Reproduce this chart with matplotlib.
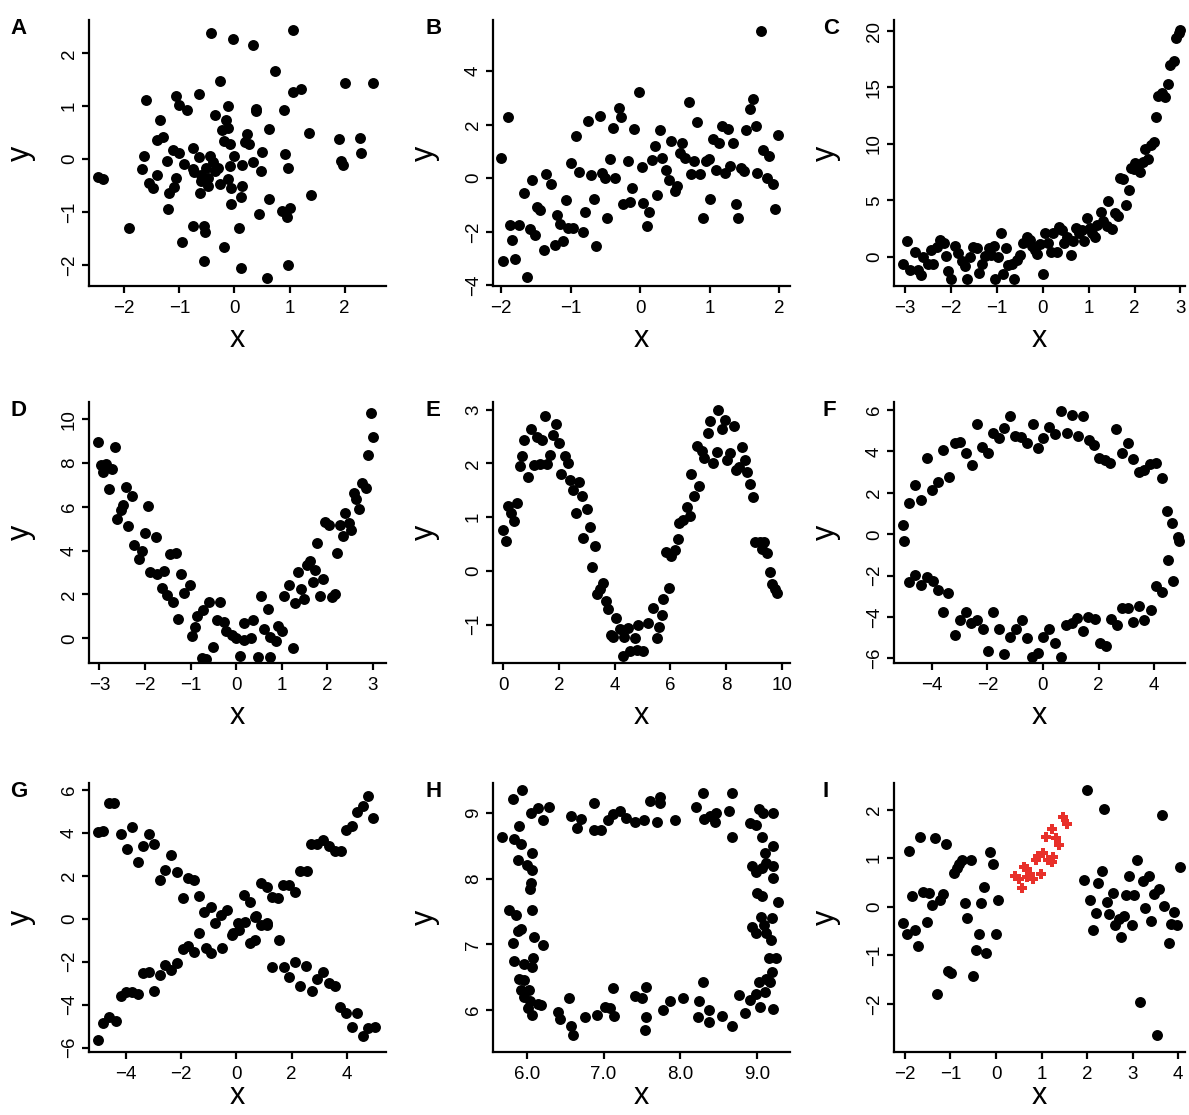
import matplotlib.pyplot as plt

plt.rcParams["font.family"] = ["Liberation Sans", "DejaVu Sans"]

# ---- data, one pair of lists per panel ----
A_X = [-0.42, -0.03, 0.33, 1.06, 0.74, -0.27, 2.0, 2.52, 1.06, 1.21, -0.64, -1.07, -1.61, -1.0,
       -0.87, -0.11, 0.39, 0.39, 0.9, -0.36, -1.35, -0.15, -0.22, -0.11, 0.62, 1.36, 0.22, -1.41,
       -1.29, -0.19, -0.08, 0.19, 0.27, 1.9, 2.27, -0.76, 2.3, 0.5, 0.91, -1.65, -1.12, -1.0, -1.22,
       -0.92, -0.64, -0.45, 0.0, 0.33, 0.14, -0.08, -1.67, -0.52, -0.3, -0.36, 0.48, 0.98, 1.97,
       1.94, -0.73, -0.61, -0.48, -1.41, -1.07, -1.55, -1.48, -1.1, -0.27, -0.11, -0.06, 0.13,
       -0.61, -0.48, -1.18, -0.62, 0.12, 0.62, 1.39, -0.07, -1.21, 0.44, 0.87, 1.01, 0.95, -1.91,
       -0.76, -0.56, -0.53, 0.08, -0.95, -0.19, -0.56, 0.11, 0.97, 0.59, -2.48, -2.38, -0.39, -0.76]
A_Y = [2.39, 2.28, 2.15, 2.44, 1.66, 1.47, 1.43, 1.43, 1.26, 1.33, 1.24, 1.19, 1.11, 1.03, 0.92,
       1.0, 0.95, 0.91, 0.92, 0.84, 0.73, 0.73, 0.55, 0.59, 0.57, 0.5, 0.48, 0.37, 0.41, 0.35, 0.29,
       0.32, 0.29, 0.38, 0.4, 0.21, 0.11, 0.13, 0.1, 0.05, 0.17, 0.11, -0.03, -0.1, 0.03, 0.06, 0.06,
       -0.05, -0.11, -0.14, -0.18, -0.16, -0.16, -0.22, -0.22, -0.16, -0.11, -0.04, -0.25, -0.3,
       -0.35, -0.3, -0.35, -0.45, -0.54, -0.52, -0.48, -0.38, -0.54, -0.51, -0.41, -0.51, -0.65,
       -0.65, -0.71, -0.75, -0.68, -0.84, -0.94, -1.03, -0.98, -0.93, -1.09, -1.31, -1.27, -1.26,
       -1.38, -1.31, -1.56, -1.67, -1.92, -2.06, -2.01, -2.25, -0.33, -0.38, -0.06, -0.19]

B_X = [1.74, -2.0, -1.91, -1.97, -1.8, -1.63, -1.88, -1.84, -1.75, -1.68, -1.58, -1.56, -1.51,
       -1.48, -1.44, -1.39, -1.36, -1.28, -1.23, -1.2, -1.16, -1.11, -1.07, -1.04, -0.99, -0.96,
       -0.92, -0.88, -0.83, -0.79, -0.75, -0.71, -0.67, -0.64, -0.58, -0.55, -0.51, -0.47, -0.43,
       -0.39, -0.36, -0.31, -0.27, -0.25, -0.18, -0.15, -0.11, -0.09, -0.02, 0.02, 0.04, 0.13, 0.1,
       0.17, 0.21, 0.25, 0.29, 0.32, 0.37, 0.41, 0.44, 0.5, 0.53, 0.57, 0.61, 0.65, 0.7, 0.73, 0.78,
       0.82, 0.86, 0.91, 0.95, 0.99, 1.01, 1.05, 1.1, 1.14, 1.18, 1.22, 1.27, 1.3, 1.34, 1.38, 1.41,
       1.46, 1.5, 1.53, 1.58, 1.62, 1.67, 1.69, 1.77, 1.83, 1.86, 1.91, 1.94, 1.99]
B_Y = [5.5, 0.76, 2.29, -3.1, -3.03, -3.68, -1.73, -2.31, -1.75, -0.55, -1.88, -0.07, -2.13, -1.07,
       -1.19, -2.66, 0.17, -0.2, -2.5, -1.36, -1.69, -2.35, -0.82, -1.85, 0.57, -1.84, 1.57, 0.24,
       -2.0, -1.26, 2.14, 0.11, -0.76, -2.52, 2.33, 0.21, 0.02, -1.47, 0.71, 1.89, 0.01, 2.62, 2.29,
       -0.97, 0.65, -0.88, -0.35, 1.83, 3.2, 0.4, -0.92, -1.26, -1.78, 0.67, 1.21, -0.63, 1.79, 0.76,
       0.3, -0.07, 1.38, -0.47, -0.29, 0.95, 1.32, 0.76, 2.85, 0.15, 0.65, 2.1, 0.14, -1.5, 0.65,
       0.71, -0.76, 1.48, 0.32, 1.33, 1.95, 0.21, 1.85, 0.46, 1.32, -0.95, -1.5, 0.39, 0.26, 1.79,
       2.57, 2.97, 1.94, 0.21, 1.07, -0.01, 0.83, -0.2, -1.16, 1.6]

C_X = [-3.04, -2.96, -2.89, -2.78, -2.71, -2.66, -2.6, -2.49, -2.44, -2.38, -2.31, -2.24, -2.16,
       -2.11, -2.06, -2.0, -1.91, -1.84, -1.76, -1.69, -1.64, -1.58, -1.51, -1.44, -1.39, -1.33,
       -1.26, -1.18, -1.13, -1.07, -1.04, -0.97, -0.91, -0.86, -0.8, -0.75, -0.68, -0.62, -0.57,
       -0.49, -0.42, -0.35, -0.28, -0.24, -0.17, -0.12, -0.06, 0.0, 0.05, 0.12, 0.17, 0.23, 0.31,
       0.36, 0.41, 0.46, 0.52, 0.61, 0.67, 0.73, 0.78, 0.85, 0.91, 0.96, 1.02, 1.08, 1.14, 1.19,
       1.26, 1.32, 1.39, 1.43, 1.52, 1.58, 1.63, 1.68, 1.76, 1.82, 1.87, 1.92, 1.98, 2.06, 2.12,
       2.19, 2.23, 2.3, 2.37, 2.43, 2.47, 2.52, 2.59, 2.67, 2.74, 2.77, 2.85, 2.9, 2.96, 2.99, 2.01]
C_Y = [-0.6, 1.43, -1.19, 0.45, -1.19, -1.64, 0.0, -0.6, 0.6, -0.65, 0.89, 1.49, 1.19, 0.06, -1.25,
       -1.93, 0.95, 0.3, -0.39, -0.83, -1.93, 0.0, 0.89, 0.8, -1.43, -0.6, 0.06, 0.74, 0.15, 0.95,
       -1.93, 0.0, 2.14, -1.49, 0.74, -0.74, -0.6, -1.93, -0.3, 0.15, 1.19, 1.73, 1.49, 0.95, 0.6,
       0.24, 1.13, -1.55, 2.08, 1.19, 0.45, 2.08, 0.45, 2.68, 2.38, 1.19, 1.73, 0.15, 1.43, 2.59,
       2.14, 2.38, 1.43, 3.42, 2.53, 2.14, 1.73, 2.83, 3.93, 3.21, 2.74, 4.91, 2.44, 3.87, 3.57,
       6.99, 6.9, 4.61, 5.95, 7.89, 7.74, 7.98, 7.5, 8.39, 9.52, 8.69, 9.88, 10.18, 12.35, 14.29,
       14.49, 14.14, 15.33, 16.96, 17.32, 19.4, 19.85, 20.09, 8.33]

D_X = [-3.03, -2.66, -2.97, -2.86, -2.92, -2.72, -2.79, -2.42, -2.29, -2.48, -2.53, -2.61, -2.37,
       -1.93, -2.0, -1.77, -2.24, -2.06, -2.13, -1.89, -1.74, -1.58, -1.45, -1.31, -1.63, -1.51,
       -1.38, -1.2, -1.14, -1.01, -1.27, -0.85, -0.72, -0.59, -0.9, -0.96, -0.35, -0.41, -0.26,
       -0.23, -0.1, -0.01, 0.18, 0.32, 0.18, 0.37, 0.54, 0.69, 0.62, 0.75, 0.87, 0.93, 1.0, 1.24,
       -0.75, -0.67, -0.51, 0.08, 0.49, 0.74, 1.05, 1.15, 1.3, 1.35, 1.42, 1.5, 1.55, 1.62, 1.68,
       1.73, 1.84, 1.91, 1.77, 1.96, 2.04, 2.1, 2.18, 2.21, 2.29, 2.34, 2.4, 2.47, 2.52, 2.58, 2.63,
       2.7, 2.76, 2.84, 2.89, 3.0, 2.95]
D_Y = [8.95, 8.75, 7.91, 7.96, 7.61, 7.72, 6.82, 6.89, 6.5, 6.09, 5.86, 5.43, 5.14, 6.04, 4.82,
       4.64, 4.26, 4.0, 3.61, 3.04, 2.94, 3.09, 3.84, 3.88, 2.28, 1.98, 1.67, 2.94, 2.05, 2.44, 0.87,
       1.02, 1.29, 1.64, 0.5, 0.12, 1.64, 0.84, 0.76, 0.35, 0.15, 0.0, -0.08, 0.0, 0.68, 0.84, 1.93,
       1.32, 0.41, 0.08, -0.11, 0.58, 0.35, -0.46, -0.91, -0.96, -0.41, -0.81, -0.84, -0.84, 1.93,
       2.44, 1.63, 3.04, 2.25, 1.8, 3.35, 3.55, 2.56, 3.12, 1.95, 2.69, 4.37, 5.33, 5.18, 1.9, 2.02,
       3.88, 5.18, 4.67, 5.71, 5.28, 4.95, 6.65, 6.35, 5.89, 7.08, 6.85, 8.37, 9.21, 10.3]

E_X = [-0.01, 0.11, 0.19, 0.29, 0.41, 0.51, 0.61, 0.69, 0.76, 0.91, 0.99, 1.11, 1.23, 1.33, 1.39,
       1.51, 1.57, 1.69, 1.78, 1.9, 2.01, 2.08, 2.22, 2.34, 2.4, 2.52, 2.72, 2.62, 2.82, 3.0, 2.88,
       3.12, 3.3, 3.2, 3.36, 3.6, 3.48, 3.69, 3.78, 4.05, 3.87, 3.95, 4.19, 4.35, 4.47, 4.29, 4.55,
       4.73, 4.85, 4.79, 5.01, 5.21, 5.36, 5.51, 5.59, 5.69, 5.75, 5.96, 5.84, 6.02, 6.16, 6.26,
       6.32, 6.46, 6.58, 6.7, 6.86, 6.74, 7.04, 6.94, 7.12, 7.2, 7.36, 7.42, 7.54, 7.66, 7.72, 7.84,
       7.96, 8.04, 8.14, 8.28, 8.37, 8.47, 8.58, 8.67, 8.76, 8.85, 8.95, 9.03, 9.21, 9.35, 9.27,
       9.45, 9.57, 9.63, 9.75, 9.84]
E_Y = [0.77, 0.56, 1.21, 1.08, 0.93, 1.27, 1.95, 2.14, 2.43, 1.75, 2.63, 1.97, 2.49, 1.98, 2.44,
       2.88, 1.99, 2.15, 2.52, 2.74, 2.37, 1.81, 2.13, 2.0, 1.69, 1.5, 1.66, 1.07, 1.39, 1.16, 0.62,
       0.81, 0.46, 0.08, -0.43, -0.23, -0.34, -0.55, -0.71, -0.87, -1.19, -1.23, -1.08, -1.23,
       -1.06, -1.58, -1.48, -1.25, -1.0, -1.47, -1.48, -0.97, -0.69, -1.25, -1.05, -0.82, -0.53,
       -0.32, 0.36, 0.27, 0.39, 0.59, 0.9, 0.95, 1.18, 1.02, 1.39, 1.81, 1.58, 2.32, 2.23, 2.1,
       2.57, 2.78, 2.0, 2.21, 2.99, 2.63, 2.81, 2.06, 2.2, 2.7, 1.87, 1.94, 2.31, 2.06, 1.84, 1.61,
       1.37, 0.54, 0.53, 0.54, 0.4, 0.34, -0.01, -0.24, -0.34, -0.4]

F_X = [-5.02, -5.0, -4.81, -4.6, -4.39, -4.18, -4.0, -3.79, -3.59, -3.37, -3.17, -2.99, -2.77,
       -2.57, -2.39, -2.18, -1.99, -1.79, -1.57, -1.39, -1.19, -1.01, -0.79, -0.59, -0.37, -0.17,
       0.01, 0.23, 0.43, 0.64, 0.85, 1.06, 1.25, 1.45, 1.65, 1.85, 2.03, 2.23, 2.41, 2.63, 2.85,
       3.05, 3.25, 3.45, 3.65, 3.85, 4.06, 4.27, 4.47, 4.66, 4.87, 4.89, 4.51, 4.69, 4.06, 4.27,
       3.87, 3.65, 3.47, 3.25, 3.05, 2.83, 2.65, 2.43, 2.27, 2.05, 1.87, 1.63, 1.45, 1.24, 1.03,
       0.83, 0.64, 0.43, 0.23, 0.01, -0.17, -0.38, -0.59, -0.77, -0.97, -1.19, -1.39, -1.57, -1.79,
       -1.97, -2.17, -2.39, -2.59, -2.77, -2.99, -3.17, -3.59, -3.41, -3.77, -3.97, -4.18, -4.39,
       -4.6, -4.81]
F_Y = [0.45, -0.31, 1.53, 2.38, 1.66, 3.7, 2.14, 2.54, 4.07, 2.75, 4.4, 4.48, 3.95, 3.35, 5.31,
       4.24, 3.91, 4.91, 4.64, 5.15, 5.72, 4.75, 4.72, 4.43, 5.31, 4.15, 4.64, 5.2, 4.83, 5.96, 4.91,
       5.76, 4.75, 5.72, 4.56, 4.32, 3.7, 3.59, 3.43, 5.07, 3.95, 4.43, 3.62, 3.03, 3.11, 3.4, 3.46,
       2.71, 1.1, 0.53, -0.11, -0.31, -1.24, -2.24, -2.48, -2.77, -3.66, -4.14, -3.46, -4.22, -3.57,
       -3.57, -4.38, -4.11, -5.39, -5.27, -4.11, -3.98, -4.65, -4.06, -4.3, -4.38, -5.91, -5.27,
       -4.59, -4.94, -5.72, -5.91, -4.99, -4.14, -4.59, -4.94, -5.8, -4.59, -3.78, -5.64, -4.59,
       -4.14, -4.3, -3.78, -4.14, -4.86, -3.78, -2.85, -2.69, -2.24, -2.08, -2.45, -1.96, -2.29]

G_X = [-5.01, -4.81, -4.61, -4.41, -4.17, -3.95, -3.77, -3.56, -3.36, -3.16, -2.96, -2.75, -2.56,
       -2.36, -2.15, -1.93, -1.75, -1.51, -1.33, -1.15, -0.93, -0.75, -0.54, -0.33, -0.12, 0.06,
       0.27, 0.48, 0.66, 0.51, 0.69, 0.91, 1.11, 1.12, 1.3, 1.51, 1.53, 1.3, 1.69, 1.71, 1.91, 1.91,
       2.11, 2.14, 2.29, 2.32, 2.51, 2.54, 2.74, 2.69, 2.92, 2.93, 3.14, 3.14, 3.36, 3.36, 3.56,
       3.56, 3.78, 3.74, 3.95, 4.17, 4.35, 3.95, 4.17, 4.35, 4.57, 4.77, 4.95, 4.57, 4.77, 5.01,
       -5.01, -4.81, -4.59, -4.35, -4.17, -3.99, -3.78, -3.56, -3.38, -3.16, -2.96, -2.75, -2.56,
       -2.36, -2.14, -1.93, -1.75, -1.53, -1.33, -1.11, -0.91, -0.52, -0.14, 0.1, 0.3, 0.7, 0.91,
       1.12]
G_Y = [4.05, 4.09, 5.36, 5.36, 3.94, 3.22, 4.25, 2.65, 3.38, 3.94, 3.47, 1.8, 2.26, 2.96, 2.19,
       0.98, 1.88, 1.8, 1.05, 0.33, 0.53, -0.22, 0.17, 0.4, -0.68, -0.22, 1.1, -1.15, -0.99, 0.79,
       0.09, 1.64, -0.29, 1.49, 1.02, 0.95, -0.99, -2.23, 1.57, -2.23, 1.57, -2.73, -2.0, 1.22,
       -3.13, 2.23, -2.2, 2.23, -3.35, 3.47, -2.82, 3.47, -2.47, 3.66, -2.98, 3.38, -3.13, 3.15,
       3.15, -4.09, -4.4, -5.05, -4.37, 4.12, 4.31, 4.98, 5.24, 5.71, 4.7, -5.46, -5.1, -5.02,
       -5.64, -4.87, -4.56, -4.74, -3.6, -3.4, -3.4, -3.5, -2.54, -2.47, -3.36, -2.62, -2.16, -2.39,
       -2.05, -1.43, -1.27, -1.53, -0.68, -1.35, -1.58, -1.35, -0.76, -0.53, -0.14, 0.12, -0.29,
       -0.22]

H_X = [5.68, 5.82, 5.94, 5.9, 5.84, 5.93, 5.89, 6.07, 6.0, 6.07, 6.06, 6.04, 5.77, 5.86, 6.07,
       5.89, 5.93, 5.82, 6.1, 6.21, 5.84, 5.97, 6.08, 6.07, 5.9, 5.97, 5.93, 6.03, 5.97, 6.04, 6.02,
       6.07, 6.15, 6.18, 6.06, 6.15, 6.21, 6.29, 6.41, 6.43, 6.55, 6.58, 6.6, 6.58, 6.65, 6.71,
       6.76, 6.87, 6.87, 6.97, 6.91, 7.02, 7.06, 7.13, 7.13, 7.08, 7.14, 7.21, 7.29, 7.41, 7.53,
       7.41, 7.5, 7.56, 7.56, 7.54, 7.6, 7.74, 7.74, 7.7, 7.93, 7.77, 7.87, 8.04, 8.2, 8.3, 8.31,
       8.39, 8.45, 8.47, 8.25, 8.29, 8.23, 8.37, 8.37, 8.54, 8.64, 8.68, 8.68, 8.67, 8.76, 8.84,
       8.91, 8.99, 9.04, 9.11, 9.21, 9.03, 9.12, 9.19, 9.17, 9.16, 9.25, 9.18, 9.12, 8.93, 8.99,
       9.05, 9.09, 9.19, 9.28, 9.0, 9.06, 9.21, 9.21, 8.93, 8.99, 9.06, 9.12, 9.11, 9.21, 9.06,
       8.91, 8.99, 9.02, 9.08, 9.21]
H_Y = [8.64, 9.21, 9.36, 8.8, 8.6, 8.53, 8.29, 8.4, 8.21, 8.14, 7.93, 7.84, 7.52, 7.45, 7.53,
       7.21, 7.23, 7.02, 7.12, 6.99, 6.75, 6.7, 6.79, 6.66, 6.48, 6.45, 6.3, 6.3, 6.2, 6.13, 6.03,
       5.93, 6.09, 6.08, 9.0, 9.08, 8.9, 9.1, 5.97, 5.86, 6.18, 5.75, 5.62, 8.95, 8.77, 8.91, 5.9,
       9.15, 8.74, 8.74, 5.93, 6.04, 8.9, 8.98, 6.33, 6.03, 5.91, 9.04, 8.92, 8.87, 8.9, 6.21,
       6.18, 6.35, 5.9, 5.7, 9.18, 9.25, 9.16, 8.86, 8.9, 6.0, 6.14, 6.18, 9.1, 9.31, 8.91, 8.95,
       8.86, 9.0, 6.14, 6.43, 5.89, 6.0, 5.82, 5.91, 9.04, 9.3, 8.64, 5.75, 6.23, 5.95, 6.16,
       6.25, 6.05, 6.28, 6.01, 6.43, 6.48, 6.58, 6.43, 6.8, 6.79, 7.07, 7.17, 7.27, 7.17, 7.42,
       7.3, 7.4, 7.64, 7.78, 7.74, 8.01, 8.2, 8.19, 8.11, 8.16, 8.24, 8.39, 8.5, 8.63, 8.85, 8.82,
       9.07, 9.01, 9.01]

I_X = [-2.04, -1.96, -1.9, -1.84, -1.78, -1.72, -1.67, -1.6, -1.52, -1.47, -1.41, -1.34, -1.29,
       -1.23, -1.16, -1.1, -1.05, -0.99, -0.92, -0.86, -0.81, -0.74, -0.68, -0.63, -0.56, -0.5,
       -0.44, -0.37, -0.32, -0.26, -0.21, -0.13, -0.06, -0.01, 0.05, 1.99, 2.37, 3.64, 1.94, 2.07,
       2.12, 2.19, 2.25, 2.32, 2.43, 2.49, 2.56, 2.62, 2.69, 2.74, 2.8, 2.85, 2.92, 2.98, 3.04,
       3.09, 3.22, 3.27, 3.35, 3.41, 3.46, 3.59, 3.69, 3.79, 3.84, 3.91, 3.97, 4.03, 3.16, 3.53]
I_Y = [-0.33, -0.55, 1.15, 0.22, -0.47, -0.8, 1.44, 0.31, -0.31, 0.29, 0.03, 1.41, -1.8, 0.15,
       0.26, 1.3, -1.32, -1.37, 0.69, 0.8, 0.89, 0.96, 0.08, -0.22, 0.97, -1.42, -0.88, -0.56, 0.07,
       0.41, -0.95, 1.13, 0.89, -0.56, 0.14, 2.41, 2.02, 1.89, 0.55, 0.14, -0.47, -0.12, 0.49, 0.74,
       0.1, -0.15, 0.29, -0.38, -0.26, -0.62, -0.19, 0.24, 0.63, -0.38, 0.24, 0.96, 0.53, -0.02,
       0.63, -0.29, 0.27, 0.36, 0.01, -0.74, -0.36, -0.1, -0.38, 0.81, -1.95, -2.65]
I_RED_X = [0.42, 0.51, 0.56, 0.62, 0.69, 0.75, 0.81, 0.87, 0.93, 0.98, 1.04, 1.1, 1.15, 1.22, 1.25,
           1.32, 1.39, 1.48, 1.55, 1.22, 0.67]
I_RED_Y = [0.63, 0.58, 0.39, 0.82, 0.77, 0.67, 0.58, 0.97, 1.04, 0.67, 1.1, 1.44, 0.96, 1.61, 1.02,
           1.41, 1.27, 1.85, 1.71, 0.93, 0.62]

PANELS = ["A", "B", "C", "D", "E", "F", "G", "H", "I"]
XS = [A_X, B_X, C_X, D_X, E_X, F_X, G_X, H_X, I_X]
YS = [A_Y, B_Y, C_Y, D_Y, E_Y, F_Y, G_Y, H_Y, I_Y]

X_TICKS = [[-2, -1, 0, 1, 2], [-2, -1, 0, 1, 2], [-3, -2, -1, 0, 1, 2, 3],
           [-3, -2, -1, 0, 1, 2, 3], [0, 2, 4, 6, 8, 10], [-4, -2, 0, 2, 4],
           [-4, -2, 0, 2, 4], [6, 7, 8, 9], [-2, -1, 0, 1, 2, 3, 4]]
Y_TICKS = [[-2, -1, 0, 1, 2], [-4, -2, 0, 2, 4], [0, 5, 10, 15, 20],
           [0, 2, 4, 6, 8, 10], [-1, 0, 1, 2, 3], [-6, -4, -2, 0, 2, 4, 6],
           [-6, -4, -2, 0, 2, 4, 6], [6, 7, 8, 9], [-2, -1, 0, 1, 2]]
H_XLABELS = ["6.0", "7.0", "8.0", "9.0"]

X_LIMS = [(-2.64, 2.75), (-2.12, 2.16), (-3.24, 3.10), (-3.23, 3.29), (-0.36, 10.29),
          (-5.36, 5.11), (-5.32, 5.41), (5.56, 9.43), (-2.24, 4.15)]
Y_LIMS = [(-2.4, 2.63), (-4.02, 5.9), (-2.59, 20.98), (-1.13, 10.79), (-1.71, 3.14),
          (-6.22, 6.39), (-6.2, 6.31), (5.36, 9.46), (-2.99, 2.55)]

# ---- layout in pixels ----
W, H = 1189, 1115
COL_L = [89, 493, 894]
COL_R = [386, 790, 1185]
ROW_T = [20, 402, 783]
ROW_B = [286, 663, 1052]
XLAB_OFF = [53, 53, 44]
LETTER_X = [10, 425, 823]

fig = plt.figure(figsize=(W / 100, H / 100), dpi=100)

for i, name in enumerate(PANELS):
    r, c = divmod(i, 3)
    l, rt, t, b = COL_L[c], COL_R[c], ROW_T[r], ROW_B[r]
    ax = fig.add_axes([l / W, 1 - b / H, (rt - l) / W, (b - t) / H])

    ax.scatter(XS[i], YS[i], s=62, c="black", linewidths=0, zorder=3)
    if name == "I":
        ax.scatter(I_RED_X, I_RED_Y, s=50, marker="P", c="#e8302a", linewidths=0, zorder=4)

    ax.set_xlim(*X_LIMS[i])
    ax.set_ylim(*Y_LIMS[i])
    ax.set_xticks(X_TICKS[i])
    ax.set_yticks(Y_TICKS[i])
    if name == "H":
        ax.set_xticklabels(H_XLABELS)

    for side in ("top", "right"):
        ax.spines[side].set_visible(False)
    for side in ("left", "bottom"):
        ax.spines[side].set_linewidth(1.6)
    ax.tick_params(axis="both", length=5, width=1.6, labelsize=13.5, direction="out")
    ax.tick_params(axis="x", pad=5)
    ax.tick_params(axis="y", pad=3)
    for lab in ax.get_yticklabels():
        lab.set_rotation(90)
        lab.set_va("center")

    ax.text(0.5, -XLAB_OFF[r] / (b - t), "x", transform=ax.transAxes, ha="center",
            va="center", fontsize=22)
    ax.text(-68 / (rt - l), 0.5, "y", transform=ax.transAxes, ha="center", va="center",
            rotation=90, fontsize=22)
    fig.text(LETTER_X[c] / W, 1 - (ROW_T[r] - 2) / H, name, ha="left", va="top",
             fontsize=16, fontweight="bold")

fig.savefig("out.png", dpi=100)
